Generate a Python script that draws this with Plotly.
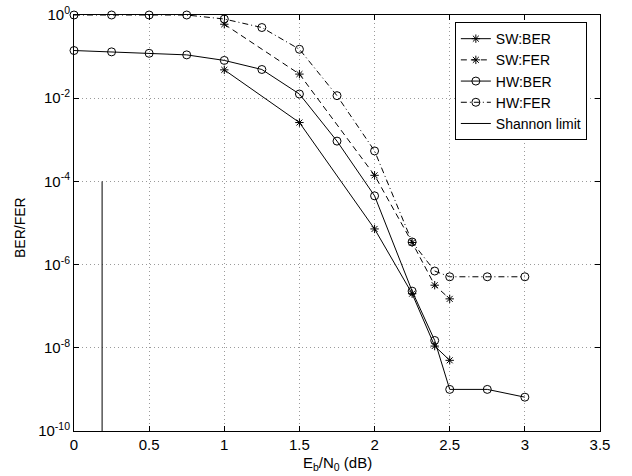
import plotly.graph_objects as go

# Eb/N0 values (dB)
x_sw = [1.0, 1.5, 2.0, 2.25, 2.4, 2.5]
x_hw = [0.0, 0.25, 0.5, 0.75, 1.0, 1.25, 1.5, 1.75, 2.0, 2.25, 2.4, 2.5, 2.75, 3.0]

sw_ber = [4.8e-2, 2.6e-3, 7.2e-6, 2.0e-7, 1.1e-8, 5.0e-9]
sw_fer = [0.6, 3.8e-2, 1.4e-4, 3.4e-6, 3.2e-7, 1.5e-7]
hw_ber = [0.14, 0.13, 0.12, 0.11, 0.081, 0.049, 0.0126, 9.3e-4, 4.5e-5, 2.3e-7, 1.5e-8, 1.0e-9, 1.0e-9, 6.5e-10]
hw_fer = [1.0, 1.0, 1.0, 1.0, 0.8, 0.5, 0.15, 0.0115, 5.4e-4, 3.5e-6, 7.0e-7, 5.1e-7, 5.1e-7, 5.1e-7]

shannon_x = [0.187, 0.187]
shannon_y = [1e-10, 1e-4]

y_tickvals = [1e-10, 1e-8, 1e-6, 1e-4, 1e-2, 1e0]
y_ticktext = ["10<sup>-10</sup>", "10<sup>-8</sup>", "10<sup>-6</sup>", "10<sup>-4</sup>", "10<sup>-2</sup>", "10<sup>0</sup>"]
x_tickvals = [0, 0.5, 1, 1.5, 2, 2.5, 3, 3.5]
x_ticktext = ["0", "0.5", "1", "1.5", "2", "2.5", "3", "3.5"]

x_title = "E<sub>b</sub>/N<sub>0</sub> (dB)"
y_title = "BER/FER"

FONT = "Liberation Sans, Arial, Helvetica, sans-serif"
fig = go.Figure()

fig.add_trace(go.Scatter(x=x_sw, y=sw_ber, name="SW:BER", mode="lines+markers",
                         line=dict(color="black", width=1),
                         marker=dict(symbol="asterisk-open", size=7, color="black",
                                     line=dict(color="black", width=1)),
                         cliponaxis=False))
fig.add_trace(go.Scatter(x=x_sw, y=sw_fer, name="SW:FER", mode="lines+markers",
                         line=dict(color="black", width=1, dash="6px,4px"),
                         marker=dict(symbol="asterisk-open", size=7, color="black",
                                     line=dict(color="black", width=1)),
                         cliponaxis=False))
fig.add_trace(go.Scatter(x=x_hw, y=hw_ber, name="HW:BER", mode="lines+markers",
                         line=dict(color="black", width=1),
                         marker=dict(symbol="circle-open", size=8, color="black",
                                     line=dict(color="black", width=1)),
                         cliponaxis=False))
fig.add_trace(go.Scatter(x=x_hw, y=hw_fer, name="HW:FER", mode="lines+markers",
                         line=dict(color="black", width=1, dash="6px,3px,1px,3px"),
                         marker=dict(symbol="circle-open", size=8, color="black",
                                     line=dict(color="black", width=1)),
                         cliponaxis=False))
fig.add_trace(go.Scatter(x=shannon_x, y=shannon_y, name="Shannon limit", mode="lines",
                         line=dict(color="black", width=1)))

axis_common = dict(showline=True, linecolor="black", linewidth=1, mirror="ticks",
                   ticks="inside", ticklen=5, tickcolor="black", automargin=False,
                   showgrid=True, gridcolor="#9a9a9a", griddash="1px,3px", gridwidth=1,
                   zeroline=False, tickfont=dict(family=FONT, size=15, color="black"))

fig.update_layout(
    width=632, height=476,
    margin=dict(l=74, r=32, t=15, b=45, autoexpand=False),
    paper_bgcolor="white", plot_bgcolor="white",
    font=dict(family=FONT, size=15, color="black"),
    showlegend=True,
    legend=dict(x=0.975, y=0.983, xanchor="right", yanchor="top",
                bgcolor="white", bordercolor="black", borderwidth=1,
                font=dict(family=FONT, size=14, color="black"),
                itemwidth=30),
    xaxis=dict(range=[0, 3.5], tickvals=x_tickvals, ticktext=x_ticktext, **axis_common),
    yaxis=dict(type="log", range=[-10, 0], tickvals=y_tickvals, ticktext=y_ticktext,
               **axis_common),
    annotations=[
        dict(text=x_title, xref="paper", yref="paper", x=0.5, y=-0.077,
             xanchor="center", yanchor="middle", showarrow=False,
             font=dict(family=FONT, size=15, color="black")),
        dict(text=y_title, xref="paper", yref="paper", x=-0.103, y=0.49,
             xanchor="center", yanchor="middle", showarrow=False, textangle=-90,
             font=dict(family=FONT, size=14, color="black")),
    ],
)

fig.write_html("out.html", config={"displayModeBar": False},
               post_script="document.body.style.margin='0';document.body.style.padding='0';")
